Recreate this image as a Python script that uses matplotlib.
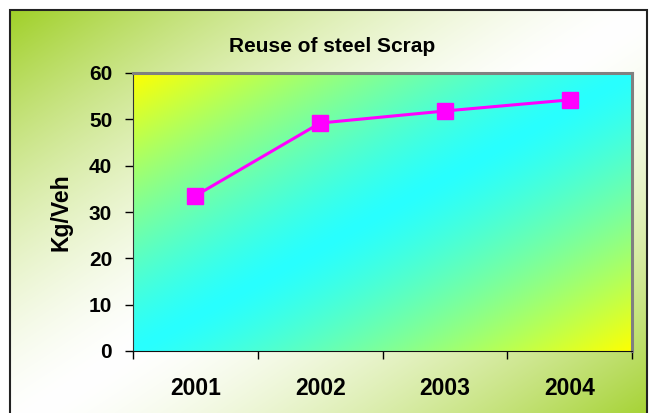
import matplotlib
matplotlib.use('Agg')
import matplotlib.pyplot as plt
import numpy as np
from matplotlib.patches import Rectangle

years = ['2001', '2002', '2003', '2004']
kg_per_veh = [33.5, 49.2, 51.8, 54.2]
y_ticks = [0, 10, 20, 30, 40, 50, 60]

plt.rcParams['font.family'] = ['Liberation Sans', 'DejaVu Sans']
plt.rcParams['font.weight'] = 'bold'

W, H = 653, 413
fig = plt.figure(figsize=(W / 100, H / 100), dpi=100)

# figure background: green corners, white band along the other diagonal
bg = fig.add_axes([0, 0, 1, 1], zorder=-2)
bg.set_axis_off()
fx0, fy0, fw, fh = 10, 10, 637, 420
yy, xx = np.mgrid[0:H, 0:W].astype(float)
t = ((xx - fx0) / fw + (yy - fy0) / fh) / 2
s = np.clip(np.abs(2 * t - 1), 0, 1) ** 1.5
green = np.array([160, 208, 40]) / 255
white = np.array([1.0, 1.0, 1.0])
img = white * (1 - s[..., None]) + green * s[..., None]
outside = (xx < fx0) | (yy < fy0) | (xx > fx0 + fw)
img[outside] = 1.0
bg.imshow(img, extent=(0, 1, 0, 1), aspect='auto', interpolation='bilinear')
bg.set_xlim(0, 1)
bg.set_ylim(0, 1)
bg.add_patch(Rectangle((fx0 / W, -0.1), fw / W, 1 - fy0 / H + 0.1,
                       fill=False, edgecolor='#222222', lw=1.5,
                       transform=bg.transAxes))

# plot area
ax = fig.add_axes([133 / W, (H - 351) / H, 499 / W, 278 / H])
pw, ph = 499, 278
py, px = np.mgrid[0:ph, 0:pw].astype(float)
tp = (px / pw + py / ph) / 2
sp = np.clip(np.abs(2 * tp - 1), 0, 1) ** 1.3
yellow = np.array([255, 255, 0]) / 255
cyan = np.array([40, 255, 255]) / 255
pimg = cyan * (1 - sp[..., None]) + yellow * sp[..., None]
x = np.arange(len(years))
ax.imshow(pimg, extent=(-0.5, len(years) - 0.5, 0, 60), aspect='auto',
          interpolation='bilinear', zorder=0)

ax.plot(x, kg_per_veh, color='#ff00ff', lw=2.2, marker='s', markersize=11.5,
        markeredgecolor='#ff00ff', zorder=3)

ax.set_xlim(-0.5, len(years) - 0.5)
ax.set_ylim(0, 60)
ax.set_yticks(y_ticks)
ax.set_xticks(np.arange(len(years) + 1) - 0.5)
ax.set_xticklabels([])
ax.set_xticks(x, minor=True)
ax.set_xticklabels(years, minor=True)
ax.tick_params(axis='x', which='major', length=6, width=1, direction='out')
ax.tick_params(axis='x', which='minor', length=0, pad=19, labelsize=16.5)
ax.tick_params(axis='y', length=6, width=1, direction='out', pad=9, labelsize=15)

for side in ['top', 'right']:
    ax.spines[side].set_color('#808080')
    ax.spines[side].set_linewidth(2.2)
ax.spines['left'].set_color('#333333')
ax.spines['bottom'].set_color('#111111')

ax.set_ylabel('Kg/Veh', fontsize=16.5, fontweight='bold', labelpad=12)
fig.text(332 / W, 1 - 47 / H, 'Reuse of steel Scrap', ha='center', va='center',
         fontsize=15, fontweight='bold')

fig.savefig('out.png', dpi=100)
